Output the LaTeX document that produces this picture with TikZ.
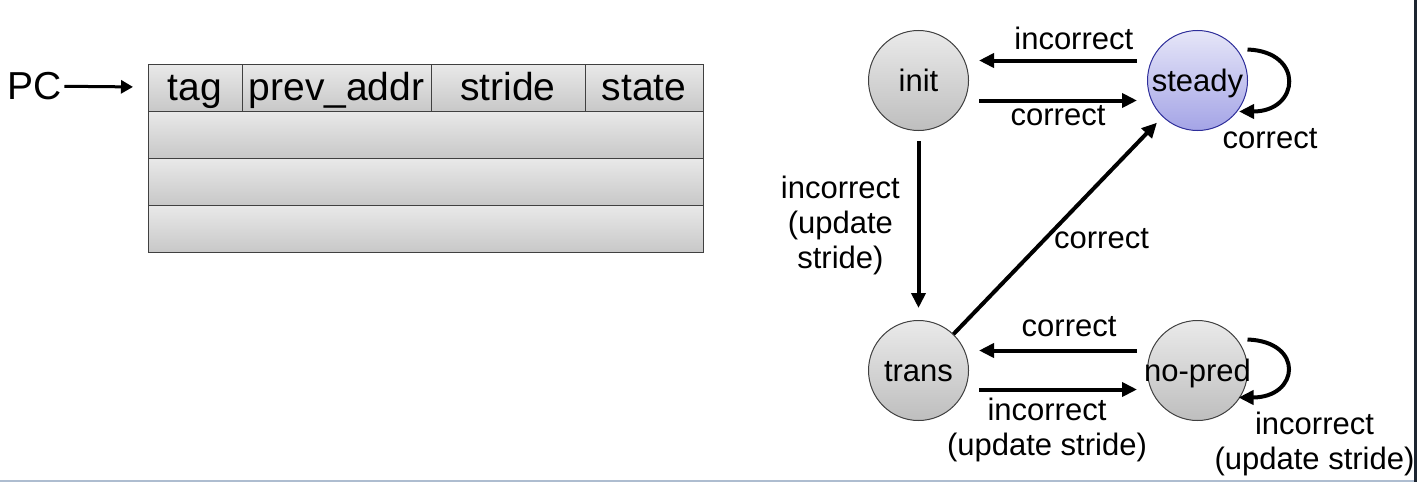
\documentclass[tikz,border=0pt]{standalone}
\usepackage{fontspec}
\setmainfont{Liberation Sans}
\usetikzlibrary{shapes.geometric, arrows.meta, positioning}
\definecolor{cellTop}{HTML}{E9E9E9}
\definecolor{cellBot}{HTML}{C8C8C8}
\definecolor{stateTop}{HTML}{EAEAEA}
\definecolor{stateBot}{HTML}{BEBEBE}
\definecolor{steadyTop}{HTML}{E6E6F8}
\definecolor{steadyBot}{HTML}{A4A4E6}
\definecolor{steadyLine}{HTML}{2E2E9A}
\definecolor{stripBlue}{HTML}{AEBDD0}
\definecolor{edgeDark}{HTML}{1C2530}
\newcommand{\tabfont}{\fontsize{19.5}{22}\selectfont}
\newcommand{\edgefont}{\fontsize{15.5}{17.5}\selectfont}
\tikzstyle{cell} = [rectangle, draw=black!75, line width=0.5pt, top color=cellTop, bottom color=cellBot, minimum height=23.5pt, inner sep=0pt, outer sep=0pt, text height=14pt, text depth=1.2pt, font=\tabfont]
\tikzstyle{tablerow} = [cell, minimum width=277.5pt]
\tikzstyle{state} = [circle, draw=black!75, line width=0.5pt, top color=stateTop, bottom color=stateBot, minimum size=50pt, inner sep=0pt, text height=11.2pt, text depth=0.6pt, font=\edgefont]
\tikzstyle{steadystate} = [state, draw=steadyLine, top color=steadyTop, bottom color=steadyBot]
\tikzstyle{edgelabel} = [font=\edgefont, text=black]
\tikzstyle{arrow} = [line width=2pt, -{Triangle[length=7.5pt, width=7pt]}]
\tikzstyle{pcarrow} = [line width=1.5pt, -{Triangle[length=6pt, width=6.5pt]}]
\begin{document}
\begin{tikzpicture}[x=0.5pt, y=-0.5pt, node distance=139.5pt]
		\useasboundingbox (0,0) rectangle (1417,482);
		\fill [stripBlue] (0,479.5) rectangle (1413.5,482);
		\fill [edgeDark] (1413.5,0) rectangle (1417,482);

		% table
		\node (tag) [cell, minimum width=47pt] at (195,87.5) {tag};
		\node (prevaddr) [cell, minimum width=94.5pt, right=0pt of tag] {prev\_addr};
		\node (stride) [cell, minimum width=77pt, right=0pt of prevaddr] {stride};
		\node (stcol) [cell, minimum width=59pt, right=0pt of stride] {state};
		\node (r1) [tablerow, anchor=north west] at (tag.south west) {};
		\node (r2) [tablerow, anchor=north west] at (r1.south west) {};
		\node (r3) [tablerow, anchor=north west] at (r2.south west) {};

		\node (pc) [inner sep=1pt, font=\tabfont] at (35,86) {PC};
		\draw [pcarrow, shorten >=7.5pt] (pc) -- (tag);

		% states
		\node (init) [state] at (918.5,80.5) {init};
		\node (steady) [steadystate, right of=init] {steady};
		\node (trans) [state, below of=init, node distance=145pt] {trans};
		\node (nopred) [state, right of=trans] {\makebox[0pt]{no-pred}};

		\draw [arrow] ([xshift=-5pt, yshift=10pt]steady.west) -- node[edgelabel, above=1pt, pos=0.4] {incorrect} ([xshift=5pt, yshift=10pt]init.east);
		\draw [arrow] ([xshift=5pt, yshift=-10pt]init.east) -- node[edgelabel, below=-2pt] {correct} ([xshift=-5pt, yshift=-10pt]steady.west);
		\draw [arrow] ([shift={(50,-31)}]steady.center) .. controls +(57,2) and +(61,0) .. ([shift={(41.5,31)}]steady.center) node[edgelabel, anchor=north, xshift=15.5pt, yshift=-4pt] {correct};

		\draw [arrow, shorten <=5pt, shorten >=6pt] (init) -- node[edgelabel, left=5pt, align=center] {incorrect\\(update\\stride)} (trans);
		\draw [arrow, shorten >=4pt] (trans) -- node[edgelabel, right, pos=0.44] {correct} (steady);

		\draw [arrow] ([xshift=-5pt, yshift=10pt]nopred.west) -- node[edgelabel, above=2.5pt, pos=0.43] {correct} ([xshift=5pt, yshift=10pt]trans.east);
		\draw [arrow] ([xshift=5pt, yshift=-9.5pt]trans.east) -- node[edgelabel, below, pos=0.43, align=center] {incorrect\\(update stride)} ([xshift=-5pt, yshift=-9.5pt]nopred.west);
		\draw [arrow] ([shift={(50,-31)}]nopred.center) .. controls +(57,2) and +(61,0) .. ([shift={(41,27)}]nopred.center) node[edgelabel, anchor=north, xshift=38pt, yshift=-3pt, align=center] {incorrect\\(update stride)};

\end{tikzpicture}
\end{document}
